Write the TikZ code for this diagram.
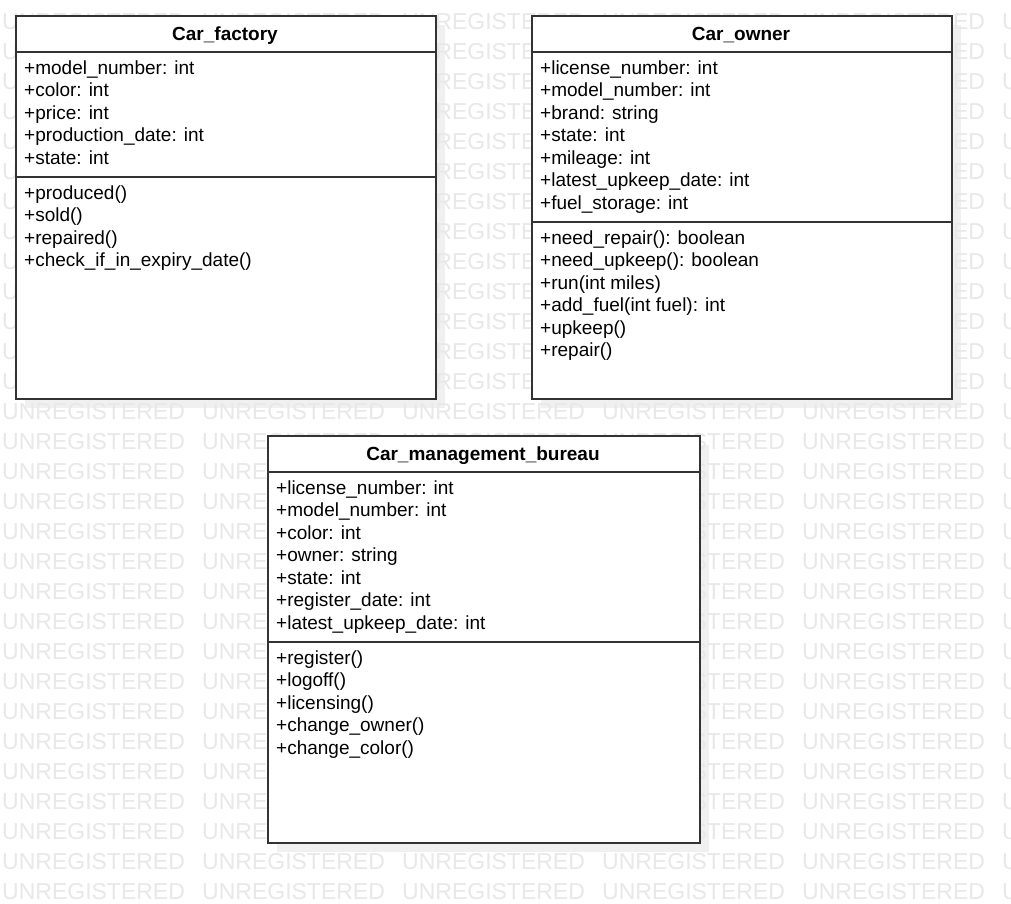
\documentclass[tikz,border=0pt]{standalone}
\usepackage{fontspec}
\setmainfont{Liberation Sans}
\definecolor{boxcol}{HTML}{333333}
\definecolor{shadowcol}{HTML}{F0F0F0}
\definecolor{wmcol}{HTML}{E8E8E8}
\tikzset{
  umlbox/.style={draw=boxcol, line width=2pt, fill=white, inner sep=0pt, anchor=north west},
  sepline/.style={draw=boxcol, line width=2pt},
  shadowfill/.style={fill=shadowcol, draw=none},
  classtitle/.style={font=\bfseries\fontsize{19}{22.5}\selectfont, anchor=base, inner sep=0pt, text=black},
  member/.style={font=\fontsize{19}{22.5}\selectfont, anchor=base west, inner sep=0pt, text=black},
  wmtext/.style={font=\fontsize{23}{23}\selectfont, text=wmcol, anchor=base west, inner sep=0pt},
}
\begin{document}
\begin{tikzpicture}[x=1pt,y=-1pt]
\useasboundingbox (0,0) rectangle (1011,903);
\fill[white] (0,0) rectangle (1011,903);
% shadows
\fill[shadowfill] (25,25) rectangle (445,408);
\fill[shadowfill] (541,25) rectangle (961,408);
\fill[shadowfill] (277,445) rectangle (709,852);
% watermark
\foreach \r in {0,...,29}{
  \foreach \c in {0,...,5}{
    \node[wmtext] (wm-\r-\c) at (2+200*\c, 29+30*\r) {UNREGISTERED};
  }
}
% Car_factory
\node[umlbox, minimum width=420pt, minimum height=383pt] (factory) at (15,15) {};
\draw[sepline] (factory.west |- 0,52) -- (factory.east |- 0,52);
\draw[sepline] (factory.west |- 0,177) -- (factory.east |- 0,177);
\node[classtitle] (factory-title) at (225,40) {Car\_factory};
\foreach \t [count=\i from 0] in {+model\_number: int, +color: int, +price: int, +production\_date: int, +state: int}{
  \node[member] (factory-a\i) at (24, 74+22.5*\i) {\t};
}
\foreach \t [count=\i from 0] in {+produced(), +sold(), +repaired(), +check\_if\_in\_expiry\_date()}{
  \node[member] (factory-m\i) at (24, 199+22.5*\i) {\t};
}
% Car_owner
\node[umlbox, minimum width=420pt, minimum height=383pt] (owner) at (531,15) {};
\draw[sepline] (owner.west |- 0,52) -- (owner.east |- 0,52);
\draw[sepline] (owner.west |- 0,222) -- (owner.east |- 0,222);
\node[classtitle] (owner-title) at (741,40) {Car\_owner};
\foreach \t [count=\i from 0] in {+license\_number: int, +model\_number: int, +brand: string, +state: int, +mileage: int, +latest\_upkeep\_date: int, +fuel\_storage: int}{
  \node[member] (owner-a\i) at (540, 74+22.5*\i) {\t};
}
\foreach \t [count=\i from 0] in {+need\_repair(): boolean, +need\_upkeep(): boolean, +run(int miles), +add\_fuel(int fuel): int, +upkeep(), +repair()}{
  \node[member] (owner-m\i) at (540, 244+22.5*\i) {\t};
}
% Car_management_bureau
\node[umlbox, minimum width=432pt, minimum height=407pt] (bureau) at (267,435) {};
\draw[sepline] (bureau.west |- 0,472) -- (bureau.east |- 0,472);
\draw[sepline] (bureau.west |- 0,642) -- (bureau.east |- 0,642);
\node[classtitle] (bureau-title) at (483,460) {Car\_management\_bureau};
\foreach \t [count=\i from 0] in {+license\_number: int, +model\_number: int, +color: int, +owner: string, +state: int, +register\_date: int, +latest\_upkeep\_date: int}{
  \node[member] (bureau-a\i) at (276, 494+22.5*\i) {\t};
}
\foreach \t [count=\i from 0] in {+register(), +logoff(), +licensing(), +change\_owner(), +change\_color()}{
  \node[member] (bureau-m\i) at (276, 664+22.5*\i) {\t};
}
\end{tikzpicture}
\end{document}
